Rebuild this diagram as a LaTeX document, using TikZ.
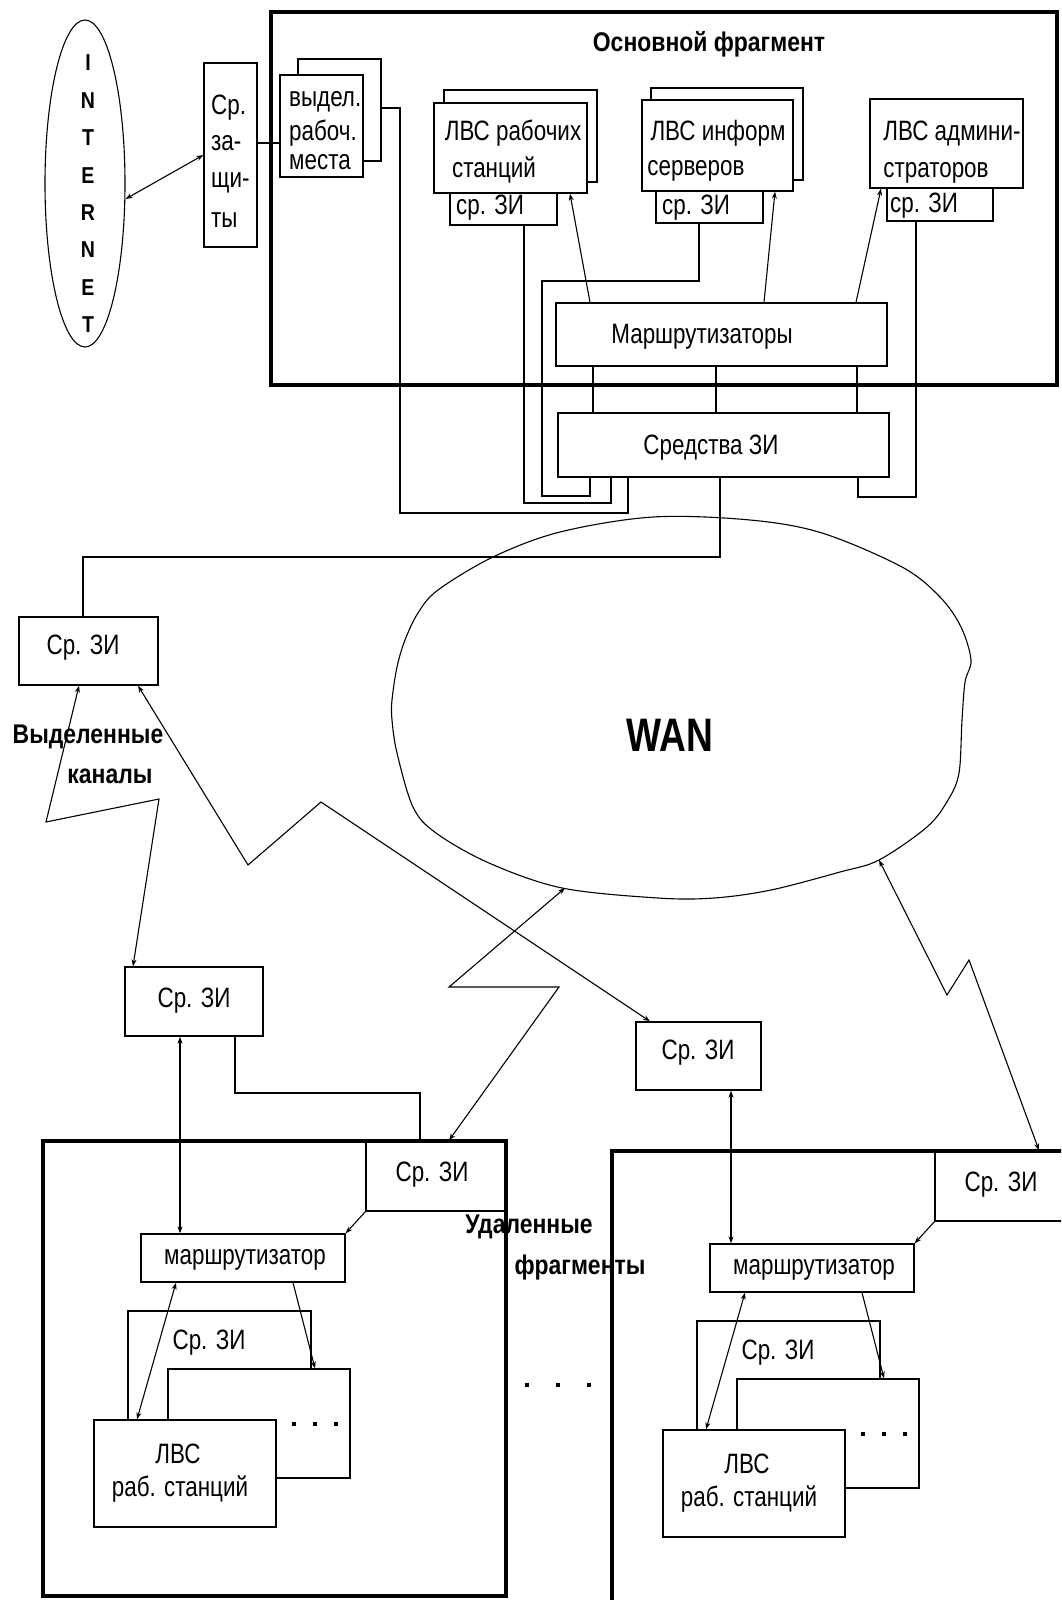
\documentclass[tikz,border=0pt]{standalone}
\usepackage{fontspec}
\setmainfont{Liberation Sans}
\newfontfamily\narrowsans{Liberation Sans}[FakeStretch=0.8]
\newfontfamily\narrowbold{Liberation Sans Bold}[FakeStretch=0.85]
\newfontfamily\wanfont{Liberation Sans Bold}[FakeStretch=0.79]
\usetikzlibrary{arrows.meta,shapes.geometric}

\tikzset{
  box/.style={draw, line width=1.3pt, fill=white, rectangle, inner sep=0pt},
  txt/.style={inner sep=0pt, font=\narrowsans\fontsize{28}{32}\selectfont, text height=20pt, text depth=6pt},
  lbl/.style={inner sep=0pt, font=\narrowbold\fontsize{27}{31}\selectfont, text height=19pt, text depth=6pt},
  wire/.style={line width=1.1pt},
  one/.style={wire, -{Stealth[length=7pt,width=5pt]}},
  two/.style={wire, {Stealth[length=7pt,width=5pt]}-{Stealth[length=7pt,width=5pt]}},
  dot/.style={fill=black, inner sep=0pt, minimum size=4pt, rectangle},
}

% rectangle node given by its two corners: [options]{name}{x1}{y1}{x2}{y2}
\newcommand\boxnode[6][]{%
  \node[box,#1,minimum width={#5-#3},minimum height={#6-#4}] (#2) at ({(#3+#5)/2},{(#4+#6)/2}) {};}

\begin{document}
\begin{tikzpicture}[x=1pt,y=-1pt]
\useasboundingbox (0,0) rectangle (1061,1600);
\clip (0,0) rectangle (1061,1600);

% ---------- Internet ----------
\node[draw, ellipse, line width=1.1pt, minimum width=80, minimum height=327, inner sep=0pt] (inet) at (85,183.5) {};
\foreach \ch [count=\i] in {I,N,T,E,R,N,E,T}
  \node[inner sep=0pt, font=\narrowbold\fontsize{23}{26}\selectfont] (inet\i) at (88,{63+37.4*(\i-1)}) {\ch};

% ---------- firewall ----------
\boxnode{zasch}{204}{63}{257}{247}
\node[txt, anchor=west] (zt1) at (211,107) {Ср.};
\node[txt, anchor=west] (zt2) at (211,143) {за-};
\node[txt, anchor=west] (zt3) at (211,180) {щи-};
\node[txt, anchor=west] (zt4) at (211,220) {ты};

% ---------- main site ----------
\boxnode[fill=none, line width=3.5pt]{mainframe}{271}{12}{1057}{385}
\node[lbl] (maintitle) at (709,45) {Основной фрагмент};

% dedicated workstations
\boxnode{vydB}{298}{59}{381}{161}
\boxnode{vydF}{280}{75}{363}{177}
\node[txt, anchor=west] (vt1) at (289,100) {выдел.};
\node[txt, anchor=west] (vt2) at (289,133) {рабоч.};
\node[txt, anchor=west] (vt3) at (289,162) {места};

% workstation LAN
\boxnode{lan1B}{444}{90}{597}{182}
\boxnode{lan1zi}{450}{180}{557}{225}
\boxnode{lan1F}{434}{103}{587}{193}
\node[txt] (l1t1) at (513,133) {ЛВС рабочих};
\node[txt] (l1t2) at (494,170) {станций};
\node[txt] (l1t3) at (490,207) {ср. ЗИ};

% information servers LAN
\boxnode{lan2B}{651}{88}{803}{180}
\boxnode{lan2zi}{656}{180}{763}{223}
\boxnode{lan2F}{642}{100}{793}{191}
\node[txt] (l2t1) at (718,133) {ЛВС информ};
\node[txt] (l2t2) at (696,168) {серверов};
\node[txt] (l2t3) at (696,207) {ср. ЗИ};

% administrators LAN
\boxnode{lan3zi}{887}{180}{993}{221}
\boxnode{lan3}{870}{99}{1023}{188}
\node[txt] (l3t1) at (952,133) {ЛВС админи-};
\node[txt] (l3t2) at (936,170) {страторов};
\node[txt] (l3t3) at (924,205) {ср. ЗИ};

% routers and crypto
\boxnode{rout}{556}{303}{887}{366}
\node[txt] (routt) at (702,336) {Маршрутизаторы};
\boxnode{sred}{558}{413}{889}{477}
\node[txt] (sredt) at (711,447) {Средства ЗИ};

\draw[two] ([yshift=-15.5pt]inet.east) -- (zasch.west);
\draw[wire] (zasch.east |- 0,143) -- (vydF.west |- 0,143);

\draw[one] (rout.north -| 590,0) -- (lan1F.south -| 570,0);
\draw[one] (rout.north -| 764,0) -- (lan2F.south -| 775,0);
\draw[one] (rout.north -| 856,0) -- (lan3.south -| 881,0);
\foreach \xx in {593,716,857}
  \draw[wire] (rout.south -| \xx,0) -- (sred.north -| \xx,0);

\draw[wire] (lan2zi.south -| 699,0) -- (699,281) -- (542,281) -- (542,496) -- (590,496) -- (sred.south -| 590,0);
\draw[wire] (lan1zi.south -| 524,0) -- (524,503) -- (611,503) -- (sred.south -| 611,0);
\draw[wire] (vydB.east |- 0,108) -- (400,108) -- (400,513) -- (628,513) -- (sred.south -| 628,0);
\draw[wire] (lan3zi.south -| 916,0) -- (916,497) -- (858,497) -- (sred.south -| 858,0);

% ---------- WAN ----------
\draw[wire] plot[smooth cycle, tension=0.55] coordinates {
  (653,517) (750,520) (822,533) (902,567) (940,597) (961,627) (971,660)
  (965,682) (962,720) (959,773) (948,800) (927,827) (879,860) (840,872)
  (771,890) (714,898) (658,898) (562,888) (489,863) (436,833) (413,807)
  (397,753) (392,720) (392,700) (397,667) (405,640) (418,613) (438,590)
  (493,557) (560,532)};
\node[inner sep=0pt, font=\wanfont\fontsize{47}{50}\selectfont] (wan) at (670,735) {WAN};
\coordinate (wanL) at (565,888);
\coordinate (wanR) at (879,860);

% ---------- channels ----------
\boxnode{ziL}{19}{617}{158}{685}
\node[txt] (ziLt) at (83,647) {Ср. ЗИ};
\node[lbl] (kan1) at (88,737) {Выделенные};
\node[lbl] (kan2) at (110,777) {каналы};
\draw[wire] (sred.south -| 720,0) -- (720,557) -- (83,557) -- (ziL.north -| 83,0);

\boxnode{ziA}{125}{967}{263}{1036}
\node[txt] (ziAt) at (194,1000) {Ср. ЗИ};
\boxnode{ziM}{636}{1022}{761}{1090}
\node[txt] (ziMt) at (698,1052) {Ср. ЗИ};

% ---------- left remote site ----------
\boxnode{ziLF}{366}{1141}{506}{1211}
\node[txt] (ziLFt) at (432,1174) {Ср. ЗИ};
\boxnode[fill=none, line width=4pt]{fragL}{43}{1141}{506}{1596}
\boxnode{routL}{141}{1234}{345}{1282}
\node[txt] (routLt) at (245,1257) {маршрутизатор};
\boxnode{backL}{128}{1311}{311}{1440}
\node[txt] (backLt) at (209,1342) {Ср. ЗИ};
\boxnode{midL}{168}{1369}{350}{1478}
\foreach \dx in {294,315,336} \node[dot, minimum size=3.5pt] at (\dx,1424) {};
\boxnode{lanL}{94}{1420}{276}{1527}
\node[txt] (lanLt1) at (178,1456) {ЛВС};
\node[txt] (lanLt2) at (180,1489) {раб. станций};

\draw[one] (ziLF.south west) -- (routL.north east);
\draw[two] (routL.south -| 176,0) -- (lanL.north -| 137,0);
\draw[one] (routL.south -| 293,0) -- (midL.north -| 315,0);

% ---------- right remote site ----------
\boxnode{ziRF}{935}{1151}{1075}{1221}
\node[txt] (ziRFt) at (1001,1184) {Ср. ЗИ};
\boxnode[fill=none, line width=4pt]{fragR}{612}{1151}{1085}{1615}
\boxnode{routR}{710}{1244}{914}{1292}
\node[txt] (routRt) at (814,1267) {маршрутизатор};
\boxnode{backR}{697}{1321}{880}{1450}
\node[txt] (backRt) at (778,1352) {Ср. ЗИ};
\boxnode{midR}{737}{1379}{919}{1488}
\foreach \dx in {863,884,905} \node[dot, minimum size=3.5pt] at (\dx,1434) {};
\boxnode{lanR}{663}{1430}{845}{1537}
\node[txt] (lanRt1) at (747,1466) {ЛВС};
\node[txt] (lanRt2) at (749,1499) {раб. станций};

\draw[one] (ziRF.south west) -- (routR.north east);
\draw[two] (routR.south -| 745,0) -- (lanR.north -| 706,0);
\draw[one] (routR.south -| 862,0) -- (midR.north -| 884,0);

\node[lbl] (udal1) at (529,1227) {Удаленные};
\node[lbl] (udal2) at (580,1268) {фрагменты};
\foreach \dx in {527,558,589} \node[dot] at (\dx,1385) {};

% ---------- links between sites ----------
\draw[two] (ziL.south -| 79,0) -- (46,822) -- (159,799) -- (ziA.north -| 133,0);
\draw[two] (ziL.south -| 138,0) -- (248,865) -- (321,802) -- (ziM.north -| 650,0);
\draw[two] (wanL) -- (449,987) -- (559,987) -- (ziLF.north -| 449,0);
\draw[two] (wanR) -- (947,995) -- (969,960) -- (ziRF.north -| 1039,0);

\draw[two] (ziA.south -| 180,0) -- (routL.north -| 180,0);
\draw[wire] (ziA.south -| 235,0) -- (235,1093) -- (420,1093) -- (ziLF.north -| 420,0);
\draw[two] (ziM.south -| 731,0) -- (routR.north -| 731,0);
\end{tikzpicture}
\end{document}
